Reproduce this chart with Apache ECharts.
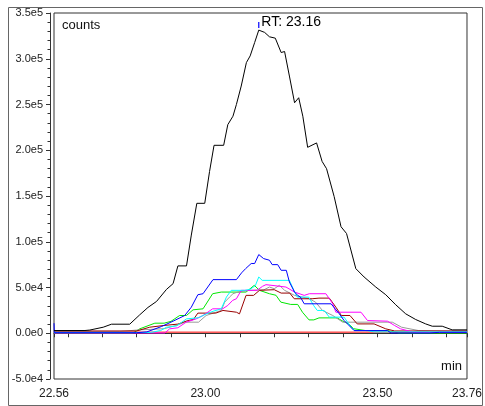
<!DOCTYPE html>
<html>
<head>
<meta charset="utf-8">
<script src="https://cdn.jsdelivr.net/npm/echarts@6/dist/echarts.min.js"></script>
<style>html,body{margin:0;padding:0;background:#fff;}#c{width:485px;height:406px;}</style>
</head>
<body>
<div id="c"></div>
<script>
// Data: [time (min), counts]
const blackData = [[22.56,3000],[22.65,3000],[22.664,3500],[22.703,6600],[22.727,9900],[22.780,9900],[22.809,20100],[22.833,28200],[22.858,34800],[22.887,48000],[22.906,54200],[22.920,73600],[22.945,73600],[22.959,107300],[22.975,142000],[22.998,142000],[23.012,176800],[23.025,205400],[23.053,205400],[23.065,228000],[23.080,237200],[23.090,250000],[23.104,270200],[23.119,295800],[23.130,303100],[23.143,317700],[23.155,331300],[23.172,328800],[23.186,324000],[23.203,322500],[23.220,306800],[23.230,307900],[23.244,281100],[23.259,251900],[23.271,257400],[23.283,237200],[23.297,203200],[23.323,208000],[23.339,187800],[23.352,179800],[23.374,149400],[23.394,116400],[23.410,109000],[23.437,70600],[23.461,61500],[23.495,50500],[23.524,42100],[23.553,31100],[23.582,21200],[23.611,15000],[23.640,10200],[23.659,7700],[23.688,7700],[23.717,3700],[23.76,3700]];
const blueData = [[22.56,11000],[22.561,600],[22.80,600],[22.83,1500],[22.872,7300],[22.906,13200],[22.940,19400],[22.959,28500],[22.978,42100],[22.993,43200],[23.022,58600],[23.090,58600],[23.105,66000],[23.117,70700],[23.133,76200],[23.143,76200],[23.155,86000],[23.169,81600],[23.186,79800],[23.194,75000],[23.210,75000],[23.220,68800],[23.235,68800],[23.244,56000],[23.259,45000],[23.268,41400],[23.276,39500],[23.287,32200],[23.365,32200],[23.389,21200],[23.403,13900],[23.432,2900],[23.529,2900],[23.539,300],[23.65,300],[23.68,1000],[23.76,1000]];
const cyanData = [[22.56,800],[22.84,800],[22.87,3000],[22.887,6600],[22.916,8000],[22.945,15700],[22.98,17000],[23.003,21200],[23.022,24000],[23.046,26700],[23.061,39500],[23.075,46900],[23.114,46900],[23.130,48000],[23.145,52000],[23.155,61500],[23.165,57800],[23.244,57800],[23.257,46900],[23.267,39500],[23.30,39500],[23.315,30000],[23.325,24900],[23.345,24900],[23.36,17600],[23.403,17600],[23.423,6600],[23.435,2900],[23.471,2900],[23.49,1500],[23.76,1500]];
const greenData = [[22.56,300],[22.79,300],[22.809,4800],[22.853,11000],[22.88,11000],[22.90,13000],[22.925,19400],[22.945,19400],[22.964,25600],[22.993,26700],[23.021,43200],[23.046,45000],[23.118,45000],[23.142,52400],[23.157,46900],[23.186,43200],[23.205,41500],[23.219,34000],[23.248,31500],[23.268,31500],[23.282,23000],[23.301,14600],[23.315,14600],[23.330,16800],[23.383,16800],[23.40,13000],[23.417,10200],[23.43,5000],[23.466,2900],[23.53,2900],[23.562,300],[23.76,300]];
const magentaData = [[22.56,300],[22.882,300],[22.896,4800],[22.92,6000],[22.944,12100],[22.973,15700],[22.993,19400],[23.021,26700],[23.05,26700],[23.065,30400],[23.079,35900],[23.09,37700],[23.104,46900],[23.15,46900],[23.166,51300],[23.176,53100],[23.234,50500],[23.259,45000],[23.287,41400],[23.302,43200],[23.350,43200],[23.37,32200],[23.379,23000],[23.452,23000],[23.471,13900],[23.529,13200],[23.55,8400],[23.567,4800],[23.606,1000],[23.76,1000]];
const grayData = [[22.56,1800],[22.75,1800],[22.80,3500],[22.88,5000],[22.92,9000],[22.94,12100],[22.98,12100],[23.002,19400],[23.031,23000],[23.046,24900],[23.056,34000],[23.07,39500],[23.08,43200],[23.094,45000],[23.128,46900],[23.17,47500],[23.186,50500],[23.20,48700],[23.215,52400],[23.23,46900],[23.259,41400],[23.30,38000],[23.32,34000],[23.34,24900],[23.37,19400],[23.399,12100],[23.543,12100],[23.57,6600],[23.62,2900],[23.76,2000]];
const brownData = [[22.56,2500],[22.80,2500],[22.838,6600],[22.877,8400],[22.92,10000],[22.949,13900],[22.965,15000],[22.978,22000],[23.03,22000],[23.051,24900],[23.09,23000],[23.099,21200],[23.118,41400],[23.14,41400],[23.157,46900],[23.20,47600],[23.22,43900],[23.245,43900],[23.258,37700],[23.31,37700],[23.33,38400],[23.36,38400],[23.379,28500],[23.395,19400],[23.42,19400],[23.441,10200],[23.49,10200],[23.524,4800],[23.55,2500],[23.76,2500]];
const redData = [[22.56,1200],[23.76,1200]];

const xTickValues = [22.56,22.6,22.7,22.8,22.9,23.0,23.1,23.2,23.3,23.4,23.5,23.6,23.7,23.76];
const xLabelValues = [22.56,23.0,23.5,23.76];
const rtValue = [23.155, 331300];
const rtText = 'RT: 23.16';

const chart = echarts.init(document.getElementById('c'), null, {renderer:'canvas'});
function line(data, color, z){
  return {type:'line', data:data, showSymbol:false, symbol:'none', z:z||2,
    lineStyle:{color:color, width:1}, itemStyle:{color:color}, animation:false};
}
const black = line(blackData, '#000000', 10);
black.markPoint = {
  symbol:'rect', symbolSize:[1.2,6], symbolOffset:[0,-5],
  itemStyle:{color:'#0000ff'},
  data:[{coord:rtValue}],
  label:{show:true, position:'right', distance:2, offset:[0,-3], formatter:rtText,
    color:'#000', fontSize:14, fontFamily:'Liberation Sans, Arial, sans-serif'},
  animation:false
};
chart.setOption({
  animation:false,
  grid:{left:54, top:13, width:414, height:366, show:true, borderColor:'#333', borderWidth:1},
  xAxis:{type:'value', min:22.56, max:23.76, offset:4,
    axisLine:{show:true, lineStyle:{color:'#333'}},
    axisTick:{show:true, length:4, customValues:xTickValues, lineStyle:{color:'#333'}},
    axisLabel:{customValues:xLabelValues, formatter:v=>Number(v).toFixed(2), fontSize:12, margin:5,
      color:'#222', fontFamily:'Liberation Sans, Arial, sans-serif'},
    splitLine:{show:false}},
  yAxis:{type:'value', min:-50000, max:350000, interval:50000, offset:4,
    axisLine:{show:true, lineStyle:{color:'#333'}},
    axisTick:{show:true, length:4, lineStyle:{color:'#333'}},
    minorTick:{show:true, splitNumber:5, length:2.5, lineStyle:{color:'#333'}},
    axisLabel:{formatter:v=>Number(v).toExponential(1).replace('e+','e'), fontSize:11, margin:7,
      color:'#222', fontFamily:'Liberation Sans, Arial, sans-serif'},
    splitLine:{show:false}},
  graphic:[
    {type:'rect', left:6, top:5, shape:{width:474, height:398}, style:{fill:'none', stroke:'#666', lineWidth:1}, silent:true},
    {type:'text', left:62, top:19, style:{text:'counts', fontSize:13, fill:'#111', fontFamily:'Liberation Sans, Arial, sans-serif'}},
    {type:'text', right:23, top:360, style:{text:'min', fontSize:13, fill:'#111', fontFamily:'Liberation Sans, Arial, sans-serif'}}
  ],
  series:[
    line(greenData, '#00e600', 3),
    line(redData, '#ff0000', 4),
    line(grayData, '#999999', 4),
    line(brownData, '#990000', 5),
    line(magentaData, '#ff00ff', 6),
    line(cyanData, '#00ffff', 8),
    line(blueData, '#0000ff', 9),
    black
  ]
});
</script>
</body>
</html>
